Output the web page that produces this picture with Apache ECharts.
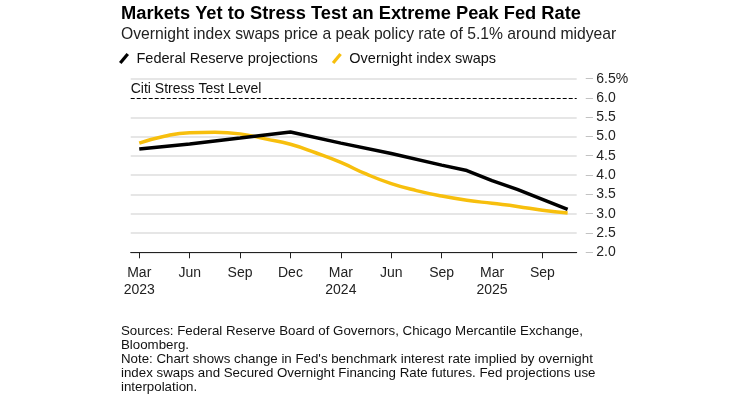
<!DOCTYPE html>
<html>
<head>
<meta charset="UTF-8">
<title>Markets Yet to Stress Test an Extreme Peak Fed Rate</title>
<script src="https://cdn.jsdelivr.net/npm/echarts@6/dist/echarts.min.js"></script>
<style>
  html, body { margin: 0; padding: 0; background: #fff; }
  #main { width: 732px; height: 396px; }
</style>
</head>
<body>
<div id="main"></div>
<script type="text/javascript">
// tick labels on the x axis, one per quarter mark shown in the chart
var tickLabels = ['Mar\n2023', 'Jun', 'Sep', 'Dec', 'Mar\n2024', 'Jun', 'Sep', 'Mar\n2025', 'Sep'];
var tickPos = [0, 1, 2, 3, 4, 5, 6, 7, 8];

// Federal Reserve projections (position along the tick scale, rate %)
var fedX = [0, 1, 2, 3, 4, 5, 6, 6.5, 7, 7.5, 8, 8.5];
var fedRate = [4.68, 4.81, 4.96, 5.12, 4.83, 4.56, 4.26, 4.12, 3.86, 3.63, 3.37, 3.11];

// Overnight index swaps
var oisX = [0, 0.5, 1, 1.5, 2, 2.5, 3, 3.5, 4, 4.5, 5, 5.5, 6, 6.5, 7, 7.5, 8, 8.5];
var oisRate = [4.83, 5.01, 5.10, 5.11, 5.07, 4.94, 4.80, 4.58, 4.33, 4.03, 3.78, 3.60, 3.46, 3.35, 3.27, 3.19, 3.09, 3.02];

var stressLevel = 6.0;

function pairs(xs, ys) {
    var out = [];
    for (var i = 0; i < xs.length; i++) out.push([xs[i], ys[i]]);
    return out;
}

var font = '"Liberation Sans", Arial, sans-serif';
var slash = 'path://M0,9 L7.5,0 L10,2 L2.5,11 Z';

var myChart = echarts.init(document.getElementById('main'));

var option = {
    backgroundColor: '#fff',
    animation: false,
    textStyle: { fontFamily: font },
    title: [{
        text: 'Markets Yet to Stress Test an Extreme Peak Fed Rate',
        left: 116, top: 0,
        textStyle: { fontFamily: font, fontSize: 18.3, fontWeight: 'bold', color: '#000' }
    }, {
        text: 'Overnight index swaps price a peak policy rate of 5.1% around midyear',
        left: 116, top: 22,
        textStyle: { fontFamily: font, fontSize: 15.7, fontWeight: 'normal', color: '#222' }
    }, {
        text: 'Sources: Federal Reserve Board of Governors, Chicago Mercantile Exchange,\nBloomberg.\nNote: Chart shows change in Fed\'s benchmark interest rate implied by overnight\nindex swaps and Secured Overnight Financing Rate futures. Fed projections use\ninterpolation.',
        left: 116, top: 319,
        textStyle: { fontFamily: font, fontSize: 13.3, fontWeight: 'normal', color: '#111', lineHeight: 14 }
    }],
    legend: {
        left: 114, top: 46,
        itemWidth: 11, itemHeight: 11, itemGap: 14,
        textStyle: { fontFamily: font, fontSize: 14.5, color: '#111', padding: [0, 0, 0, 2] },
        data: [
            { name: 'Federal Reserve projections', icon: slash },
            { name: 'Overnight index swaps', icon: slash }
        ]
    },
    grid: { left: 130.7, right: 155.3, top: 78.7, bottom: 143.7 },
    xAxis: {
        type: 'value',
        min: -0.17,
        max: 8.68,
        splitLine: { show: false },
        axisLine: { show: true, lineStyle: { color: '#222', width: 1 } },
        axisTick: { show: true, customValues: tickPos, length: 6, lineStyle: { color: '#222' } },
        axisLabel: {
            customValues: tickPos,
            margin: 12,
            fontFamily: font, fontSize: 14, color: '#222', lineHeight: 17,
            formatter: function (v) { return tickLabels[Math.round(v)]; }
        }
    },
    yAxis: {
        type: 'value',
        position: 'right',
        min: 2,
        max: 6.5,
        interval: 0.5,
        axisLine: { show: false },
        axisTick: { show: false },
        splitLine: {
            show: true,
            lineStyle: {
                width: 1.5,
                color: ['#dedede', '#dedede', '#dedede', '#dedede', '#dedede', '#dedede', '#dedede', '#dedede', 'rgba(0,0,0,0)', '#dedede']
            }
        },
        axisLabel: {
            margin: 9,
            formatter: function (v) {
                var s = v.toFixed(1);
                if (v === 6.5) s += '%';
                return '{d|–} {v|' + s + '}';
            },
            rich: {
                d: { color: '#bbb', fontSize: 13, fontFamily: font },
                v: { color: '#222', fontSize: 14, fontFamily: font }
            }
        }
    },
    series: [{
        name: 'Federal Reserve projections',
        type: 'line',
        color: '#000',
        symbol: 'none',
        smooth: false,
        lineStyle: { width: 3.5, color: '#000' },
        data: pairs(fedX, fedRate),
        z: 3,
        markLine: {
            silent: true,
            symbol: 'none',
            lineStyle: { type: [4, 2], color: '#000', width: 1.2 },
            label: {
                show: true,
                position: 'insideStartTop',
                formatter: 'Citi Stress Test Level',
                fontFamily: font, fontSize: 14, color: '#111',
                distance: [0, 2]
            },
            data: [{ yAxis: stressLevel }]
        }
    }, {
        name: 'Overnight index swaps',
        type: 'line',
        color: '#f7bf0d',
        symbol: 'none',
        smooth: true,
        lineStyle: { width: 3.5, color: '#f7bf0d' },
        data: pairs(oisX, oisRate),
        z: 2
    }]
};

myChart.setOption(option);
</script>
</body>
</html>
